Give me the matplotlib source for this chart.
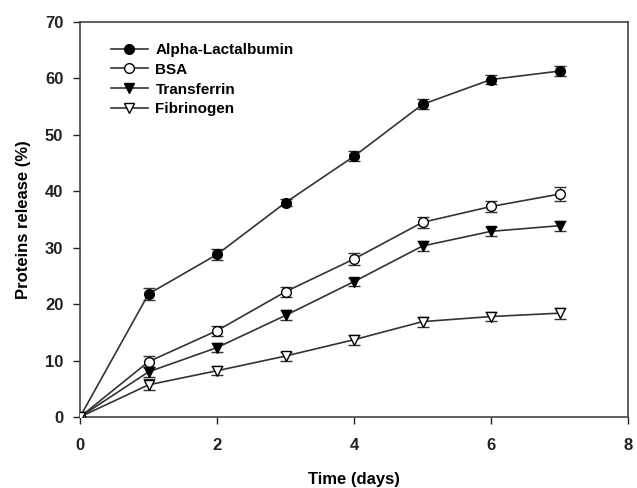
import matplotlib
matplotlib.use("Agg")
import matplotlib.pyplot as plt

plt.rcParams['font.family'] = ['Liberation Sans', 'DejaVu Sans']
plt.rcParams['font.weight'] = 'bold'

days = [0, 1, 2, 3, 4, 5, 6, 7]
alpha = [0, 21.8, 28.8, 38.0, 46.2, 55.4, 59.8, 61.3]
alpha_err = [0, 1.0, 0.9, 0.7, 0.9, 0.9, 0.8, 0.9]
bsa = [0, 9.8, 15.3, 22.2, 28.0, 34.5, 37.3, 39.5]
bsa_err = [0, 1.0, 0.9, 0.9, 1.0, 1.0, 1.0, 1.2]
transferrin = [0, 8.0, 12.3, 18.0, 24.0, 30.3, 32.9, 33.9]
transferrin_err = [0, 0.9, 0.8, 0.9, 0.7, 0.8, 0.8, 0.9]
fibrinogen = [0, 5.7, 8.2, 10.8, 13.7, 16.9, 17.8, 18.4]
fibrinogen_err = [0, 1.0, 0.8, 0.8, 0.9, 0.9, 0.8, 1.0]

fig = plt.figure(figsize=(6.37, 4.88), dpi=100)
ax = fig.add_axes([0.1256, 0.1455, 0.8604, 0.8095])

series = [
    ("Alpha-Lactalbumin", alpha, alpha_err, 'o', 'black'),
    ("BSA", bsa, bsa_err, 'o', 'white'),
    ("Transferrin", transferrin, transferrin_err, 'v', 'black'),
    ("Fibrinogen", fibrinogen, fibrinogen_err, 'v', 'white'),
]
for name, vals, err, mk, fc in series:
    ax.errorbar(days, vals, yerr=err, fmt='none', ecolor='#333333',
                elinewidth=1.0, capsize=4, capthick=1.0, zorder=2)
    ax.plot(days, vals, marker=mk, markersize=7, markerfacecolor=fc,
            markeredgecolor='black', color='#333333', linewidth=1.2,
            label=name, zorder=3)

ax.set_xlim(0, 8)
ax.set_ylim(0, 70)
ax.set_xticks([0, 2, 4, 6, 8])
ax.set_yticks(range(0, 71, 10))
ax.tick_params(direction='out', length=5, width=1, labelsize=12, colors='#222222')
ax.tick_params(axis='x', pad=10)
ax.tick_params(axis='y', pad=7)
for s in ax.spines.values():
    s.set_linewidth(1.2)
    s.set_color('#444444')
ax.set_xlabel("Time (days)", fontsize=12, fontweight='bold', labelpad=14)
ax.set_ylabel("Proteins release (%)", fontsize=12, fontweight='bold', labelpad=10)

leg = ax.legend(loc='upper left', bbox_to_anchor=(0.04, 0.97), frameon=False,
                fontsize=11, handlelength=2.4, handletextpad=0.5,
                labelspacing=0.38, borderaxespad=0.2)

fig.savefig("out.png", dpi=100)
